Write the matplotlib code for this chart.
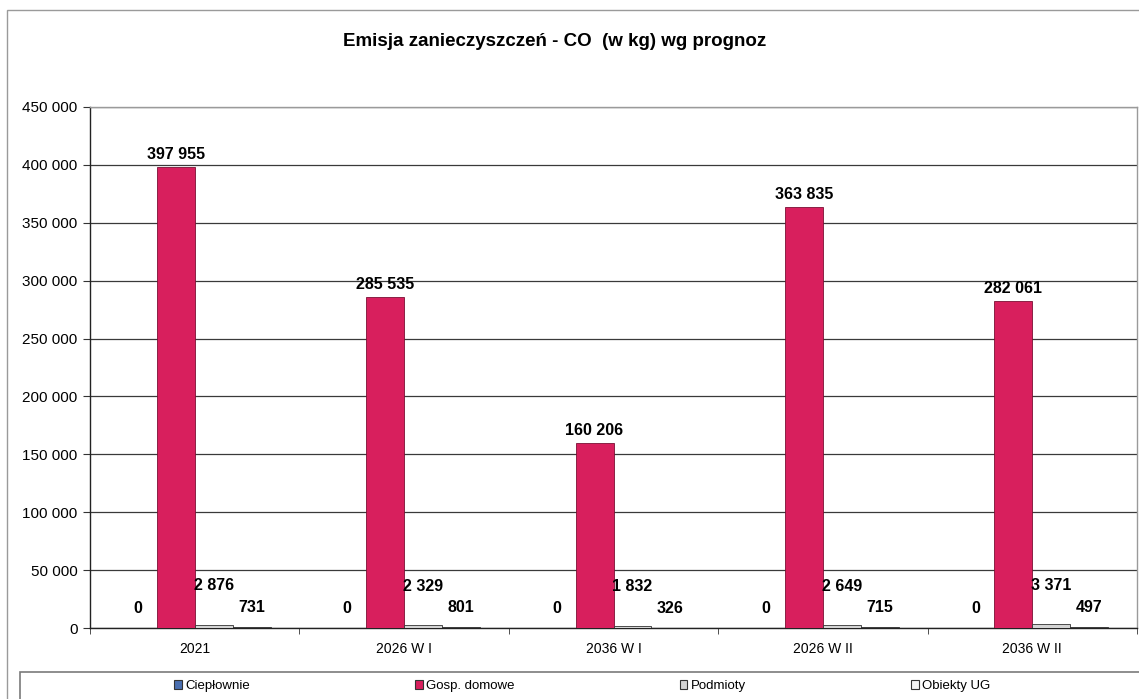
import matplotlib
matplotlib.use("Agg")
import matplotlib.pyplot as plt
import numpy as np
from matplotlib.patches import Rectangle, Patch
from matplotlib.ticker import FuncFormatter, FixedLocator

categories = ["2021", "2026 W I", "2036 W I", "2026 W II", "2036 W II"]
series_names = ["Ciepłownie", "Gosp. domowe", "Podmioty", "Obiekty UG"]
cieplownie = [0, 0, 0, 0, 0]
gosp_domowe = [397955, 285535, 160206, 363835, 282061]
podmioty = [2876, 2329, 1832, 2649, 3371]
obiekty_ug = [731, 801, 326, 715, 497]
title = "Emisja zanieczyszczeń - CO  (w kg) wg prognoz"

plt.rcParams['font.family'] = ['Liberation Sans', 'DejaVu Sans']

W, H = 1139, 699
fig = plt.figure(figsize=(W / 100, H / 100), dpi=100)
fig.patch.set_facecolor("white")

# outer chart frame
fig.add_artist(Rectangle((7 / W, -0.05), 1.2, (H - 10) / H + 0.05, transform=fig.transFigure,
                         fill=False, edgecolor="#9a9a9a", linewidth=1.0))

ax = fig.add_axes([90 / W, (H - 628) / H, (1137 - 90) / W, (628 - 107) / H])

series = [cieplownie, gosp_domowe, podmioty, obiekty_ug]
colors = ["#4a6fb0", "#d81f5d", "#d4d4d4", "#f4f4f4"]
edges = ["#333333", "#7a1034", "#333333", "#222222"]
bw = 0.181
x = np.arange(len(categories))
offsets = (np.arange(4) - 1.5) * bw

label_off = [14, 9, 28, 14]  # points above bar top

for i, (vals, c, e) in enumerate(zip(series, colors, edges)):
    ax.bar(x + offsets[i], vals, width=bw, color=c, edgecolor=e, linewidth=0.6, zorder=3)
    for xi, v in zip(x + offsets[i], vals):
        txt = f"{v:,}".replace(",", " ")
        ax.annotate(txt, (xi, v), xytext=(0, label_off[i]), textcoords="offset points",
                    ha="center", va="center", fontsize=11.5, fontweight="bold", zorder=5)

ax.set_xlim(-0.5, len(categories) - 0.5)
ax.set_ylim(0, 450000)
ax.set_yticks(np.arange(0, 450001, 50000))
ax.yaxis.set_major_formatter(FuncFormatter(lambda v, p: f"{int(v):,}".replace(",", " ")))
ax.grid(axis="y", color="#3a3a3a", linewidth=0.9, zorder=1)
ax.set_xticks(x)
ax.set_xticklabels(categories)
ax.xaxis.set_minor_locator(FixedLocator(np.arange(-0.5, len(categories), 1.0)))
ax.tick_params(axis="x", which="major", length=0, pad=10, labelsize=10)
ax.tick_params(axis="x", which="minor", length=4, direction="out", color="#333333")
ax.tick_params(axis="y", length=5, direction="out", labelsize=11, pad=4, color="#333333")

for s in ["left", "bottom"]:
    ax.spines[s].set_color("#222222")
    ax.spines[s].set_linewidth(1.0)
for s in ["top", "right"]:
    ax.spines[s].set_color("#9a9a9a")
    ax.spines[s].set_linewidth(1.0)

fig.text(555 / W, 1 - 42 / H, title, ha="center", va="center", fontsize=13.5, fontweight="bold")

# legend box
fig.add_artist(Rectangle((20 / W, -0.05), 1.2, (H - 672) / H + 0.05, transform=fig.transFigure,
                         fill=False, edgecolor="#7a7a7a", linewidth=1.2))
handles = [Patch(facecolor=c, edgecolor="#333333", linewidth=0.8) for c in colors]
fig.legend(handles, series_names, loc="center left", bbox_to_anchor=(174 / W, 1 - 686 / H),
           ncol=4, frameon=False, fontsize=9.5, handlelength=0.6, handleheight=0.6,
           handletextpad=0.25, columnspacing=12.5, borderpad=0, borderaxespad=0)

fig.savefig("out.png", dpi=100)
